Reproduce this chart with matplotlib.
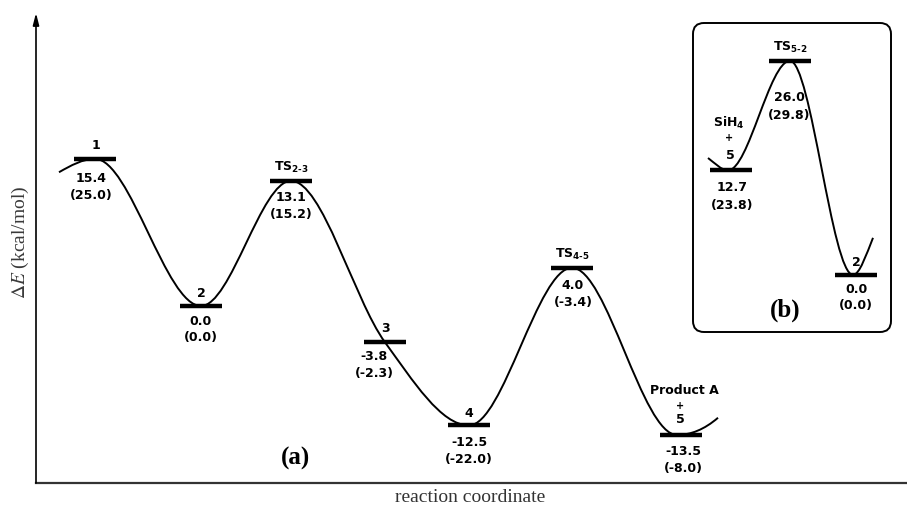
import matplotlib
matplotlib.use("Agg")
import matplotlib.pyplot as plt
from matplotlib.path import Path
from matplotlib.patches import PathPatch, FancyBboxPatch

# ---- data -------------------------------------------------------------
# panel (a): stationary points, dE and (value in parentheses), kcal/mol
names_a = ['1', '2', r'TS$_{\mathrm{2\text{-}3}}$', '3', '4', r'TS$_{\mathrm{4\text{-}5}}$', '5']
energy_a = [15.4, 0.0, 13.1, -3.8, -12.5, 4.0, -13.5]
paren_a = [25.0, 0.0, 15.2, -2.3, -22.0, -3.4, -8.0]

# panel (b)
names_b = ['5', r'TS$_{\mathrm{5\text{-}2}}$', '2']
energy_b = [12.7, 26.0, 0.0]
paren_b = [23.8, 29.8, 0.0]

# ---- layout -----------------------------------------------------------
W, H = 907, 511
stage_x_a = [59, 165, 255, 349, 433, 536, 645]
stage_x_b = [38, 97, 163]
half_bar = 21

plt.rcParams['font.family'] = ['DejaVu Sans']
plt.rcParams['mathtext.fontset'] = 'custom'
plt.rcParams['mathtext.rm'] = 'DejaVu Sans:bold'
plt.rcParams['mathtext.bf'] = 'DejaVu Sans:bold'
plt.rcParams['mathtext.it'] = 'DejaVu Sans:bold'

fig = plt.figure(figsize=(W / 100, H / 100), dpi=100)


def profile_path(xs, ys, slopes):
    # smooth schematic curve through the stationary points (cubic Bezier)
    verts = [(xs[0], ys[0])]
    codes = [Path.MOVETO]
    for i in range(len(xs) - 1):
        d = (xs[i + 1] - xs[i]) / 3
        verts += [(xs[i] + d, ys[i] + slopes[i] * d),
                  (xs[i + 1] - d, ys[i + 1] - slopes[i + 1] * d),
                  (xs[i + 1], ys[i + 1])]
        codes += [Path.CURVE4] * 3
    return Path(verts, codes)


def label(ax, text, x, y, dx, dy, size=9.0):
    ax.annotate(text, (x, y), xytext=(dx, -dy), textcoords='offset pixels',
                ha='center', va='center', fontsize=size, fontweight='bold')


# ---- panel (a) --------------------------------------------------------
ax = fig.add_axes([36 / W, (H - 483) / H, (W - 36) / W, (483 - 13) / H])
ax.set_xlim(0, W - 36)
ax.set_ylim(-18.53, 30.67)
for s in ['top', 'right', 'left']:
    ax.spines[s].set_visible(False)
ax.spines['bottom'].set_color('#333333')
ax.spines['bottom'].set_linewidth(1.6)
ax.set_xticks([])
ax.set_yticks([])
ax.patch.set_visible(False)
ax.annotate('', xy=(0, 1), xytext=(0, 0), xycoords='axes fraction',
            arrowprops=dict(arrowstyle='-|>,head_length=0.7,head_width=0.18',
                            lw=1.2, color='black', shrinkA=0, shrinkB=0))

cx = [23] + stage_x_a[:-1] + [641, 682]
cy = [14.0] + energy_a + [-11.7]
slopes = [0.06, 0, 0, 0, -0.1438, 0, 0, 0, 0.09]
ax.add_patch(PathPatch(profile_path(cx, cy, slopes), fill=False, lw=1.4, color='black'))

ax.hlines(energy_a, [x - half_bar for x in stage_x_a], [x + half_bar for x in stage_x_a],
          color='black', lw=3.2, zorder=3)

name_dx = [1, 0, 0, 1, 0, 0, -1]
name_dy = [-13, -12, -13, -14, -12, -13, -15]
val_dx = [-4, 0, 0, -11, 0, 1, 2]
val_dy = [20, 16, 17, 14, 17, 18, 17]
par_dy = [37, 32, 34, 31, 34, 35, 34]
for i, x in enumerate(stage_x_a):
    e = energy_a[i]
    label(ax, names_a[i], x, e, name_dx[i], name_dy[i])
    label(ax, f'{e:.1f}', x, e, val_dx[i], val_dy[i])
    label(ax, f'({paren_a[i]:.1f})', x, e, val_dx[i], par_dy[i])
label(ax, '+', stage_x_a[-1], energy_a[-1], -1, -29, size=7)
label(ax, 'Product A', stage_x_a[-1], energy_a[-1], 3, -44)

# ---- panel (b) --------------------------------------------------------
box_l, box_t, box_r, box_b = 693, 23, 891, 332
fig.add_artist(FancyBboxPatch((box_l / 100, (H - box_b) / 100), (box_r - box_l) / 100,
                              (box_b - box_t) / 100,
                              boxstyle='round,pad=0,rounding_size=0.11',
                              transform=fig.dpi_scale_trans, fill=False,
                              lw=1.4, edgecolor='black'))
axb = fig.add_axes([box_l / W, (H - box_b) / H, (box_r - box_l) / W, (box_b - box_t) / H])
axb.set_xlim(0, box_r - box_l)
axb.set_ylim(-6.94, 30.6)
axb.axis('off')

bx = [15, 35, stage_x_b[1], 160, 180]
by = [14.2] + energy_b + [4.5]
bslopes = [-0.09, 0, 0, 0, 0.3]
axb.add_patch(PathPatch(profile_path(bx, by, bslopes), fill=False, lw=1.4, color='black'))
axb.hlines(energy_b, [x - half_bar for x in stage_x_b], [x + half_bar for x in stage_x_b],
           color='black', lw=3.2, zorder=3)

bname_dx = [-1, 0, 0]
bname_dy = [-15, -13, -12]
bval_dx = [1, -1, 0]
bval_dy = [17, 37, 15]
bpar_dy = [35, 55, 31]
for i, x in enumerate(stage_x_b):
    e = energy_b[i]
    label(axb, names_b[i], x, e, bname_dx[i], bname_dy[i])
    label(axb, f'{e:.1f}', x, e, bval_dx[i], bval_dy[i])
    label(axb, f'({paren_b[i]:.1f})', x, e, bval_dx[i], bpar_dy[i])
label(axb, '+', stage_x_b[0], energy_b[0], -2, -32, size=7)
label(axb, r'SiH$_{\mathrm{4}}$', stage_x_b[0], energy_b[0], -2, -47)

# ---- axis titles and panel tags --------------------------------------
fig.text(20 / W, 1 - 242 / H, r'$\Delta E$ (kcal/mol)', rotation=90, ha='center', va='center',
         family='Liberation Serif', fontsize=14, color='#3a3a3a', math_fontfamily='stix')
fig.text(470 / W, 1 - 497 / H, 'reaction coordinate', ha='center', va='center',
         family='Liberation Serif', fontsize=14, color='#333333')
fig.text(296 / W, 1 - 458 / H, '(a)', ha='center', va='center',
         family='Liberation Serif', fontsize=18, fontweight='bold')
fig.text(785 / W, 1 - 310 / H, '(b)', ha='center', va='center',
         family='Liberation Serif', fontsize=18, fontweight='bold')

fig.savefig('out.png', dpi=100)
